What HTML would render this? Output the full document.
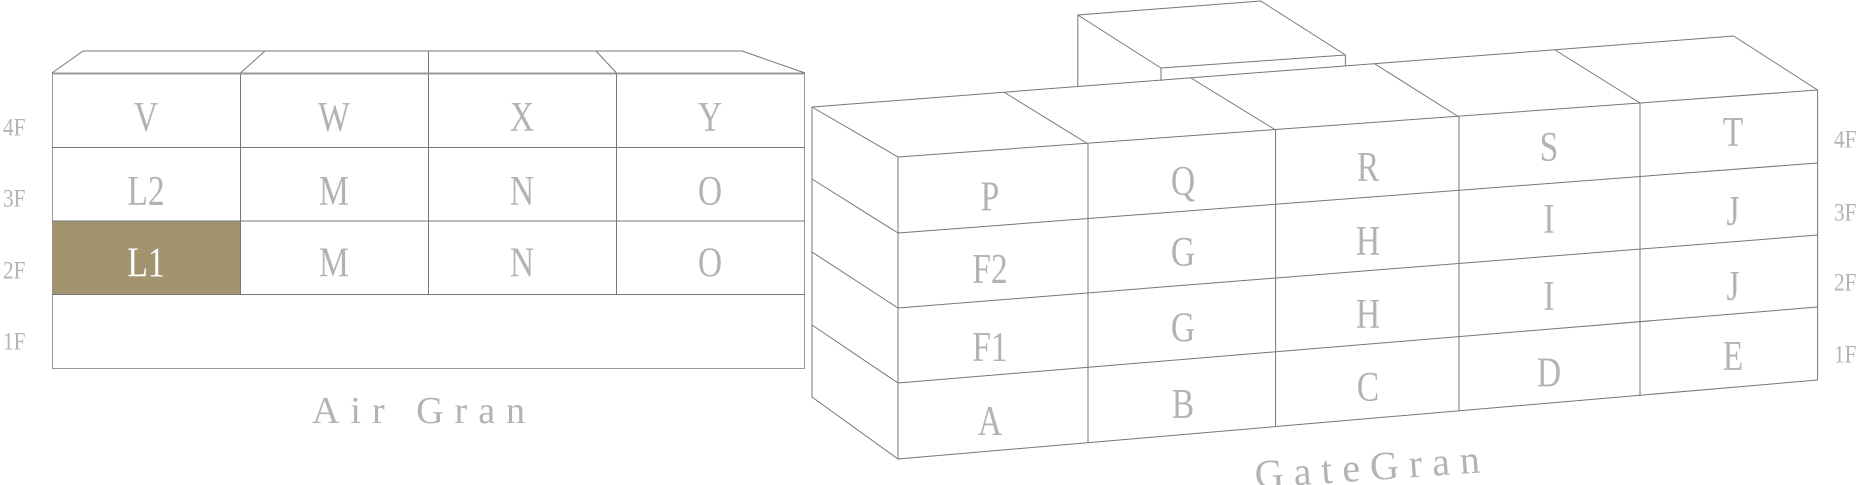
<!DOCTYPE html>
<html><head><meta charset="utf-8"><style>
html,body{margin:0;padding:0;background:#fff;}
svg{display:block;}
text{font-family:"Liberation Serif",serif;fill:#b3b3b3;}
.big text{transform-box:fill-box;transform-origin:center;transform:scaleX(0.8);}
.fl text{transform-box:fill-box;transform-origin:center;transform:scaleX(0.85);}
</style></head><body>
<svg width="1862" height="485" viewBox="0 0 1862 485" xmlns="http://www.w3.org/2000/svg">
<g fill="none" stroke="#777" stroke-width="1">
<rect x="52.5" y="73.5" width="752" height="295" stroke="#999"/>
<rect x="52.5" y="221" width="188" height="73.5" fill="#a39470" stroke="none"/>
<line x1="52" y1="147.5" x2="805" y2="147.5"/>
<line x1="52" y1="221" x2="805" y2="221"/>
<line x1="52" y1="294.5" x2="805" y2="294.5"/>
<line x1="240.5" y1="73" x2="240.5" y2="294.5"/>
<line x1="428.5" y1="73" x2="428.5" y2="294.5"/>
<line x1="616.5" y1="73" x2="616.5" y2="294.5"/>
<line x1="52" y1="73.5" x2="805" y2="73.5" stroke="#999" stroke-width="2"/>
<line x1="83" y1="51" x2="742" y2="51" stroke="#bbb" stroke-width="2"/>
<line x1="52" y1="73" x2="83" y2="51"/>
<line x1="240.5" y1="73" x2="265" y2="51"/>
<line x1="428.5" y1="73" x2="428.5" y2="51"/>
<line x1="616.5" y1="73" x2="596" y2="51"/>
<line x1="805" y1="73" x2="742" y2="51"/>
<polyline points="1077.8,86 1077.8,15 1260.7,1 1345.4,55 1345.4,66"/>
<line x1="1077.8" y1="15" x2="1161" y2="68"/>
<line x1="1161" y1="68" x2="1345.4" y2="55"/>
<line x1="1161" y1="68" x2="1161" y2="81"/>
<polyline points="812,107 898,157 898,459 812,397 812,107"/>
<line x1="812" y1="179" x2="898" y2="233"/>
<line x1="812" y1="252" x2="898" y2="308"/>
<line x1="812" y1="325" x2="898" y2="383"/>
<line x1="812" y1="107" x2="1733.6" y2="36"/>
<line x1="1733.6" y1="36" x2="1817.6" y2="90"/>
<line x1="1004.6" y1="92.5" x2="1088" y2="144"/>
<line x1="1191" y1="78" x2="1275.6" y2="130"/>
<line x1="1375" y1="64" x2="1459" y2="117"/>
<line x1="1555" y1="50" x2="1640" y2="103"/>
<line x1="898" y1="157" x2="1817.6" y2="90"/>
<line x1="898" y1="233" x2="1817.6" y2="163"/>
<line x1="898" y1="308" x2="1817.6" y2="235"/>
<line x1="898" y1="383" x2="1817.6" y2="307"/>
<line x1="898" y1="459" x2="1817.6" y2="380"/>
<line x1="1817.6" y1="90" x2="1817.6" y2="380"/>
<line x1="1088" y1="144" x2="1088" y2="443"/>
<line x1="1275.6" y1="130" x2="1275.6" y2="427"/>
<line x1="1459" y1="117" x2="1459" y2="411"/>
<line x1="1640" y1="103" x2="1640" y2="396"/>
</g>
<g class="big" font-size="42" text-anchor="middle" dominant-baseline="central">
<text x="146" y="118">V</text><text x="334" y="118">W</text><text x="522" y="118">X</text><text x="710" y="118">Y</text>
<text x="146" y="192">L2</text><text x="334" y="192">M</text><text x="522" y="192">N</text><text x="710" y="192">O</text>
<text x="146" y="263" style="fill:#fff">L1</text><text x="334" y="263">M</text><text x="522" y="263">N</text><text x="710" y="263">O</text>
<text x="990" y="197">P</text><text x="1183" y="182">Q</text><text x="1368" y="168">R</text><text x="1549" y="148">S</text><text x="1733" y="133">T</text>
<text x="990" y="270">F2</text><text x="1183" y="253">G</text><text x="1368" y="242">H</text><text x="1549" y="220">I</text><text x="1733" y="212">J</text>
<text x="990" y="348">F1</text><text x="1183" y="328">G</text><text x="1368" y="315">H</text><text x="1549" y="297">I</text><text x="1733" y="287">J</text>
<text x="990" y="422">A</text><text x="1183" y="405">B</text><text x="1368" y="388">C</text><text x="1549" y="373">D</text><text x="1733" y="357">E</text>
</g>
<g class="fl" font-size="25" dominant-baseline="central">
<text x="1" y="128">4F</text><text x="1" y="199">3F</text><text x="1" y="271">2F</text><text x="1" y="342">1F</text>
<text x="1832" y="140">4F</text><text x="1832" y="213">3F</text><text x="1832" y="283">2F</text><text x="1832" y="355">1F</text>
</g>
<text x="424" y="423" font-size="38" text-anchor="middle" letter-spacing="11">Air Gran</text>
<text x="1372" y="480" font-size="40" text-anchor="middle" letter-spacing="10" transform="rotate(-4 1372 465)">GateGran</text>
</svg>
</body></html>
